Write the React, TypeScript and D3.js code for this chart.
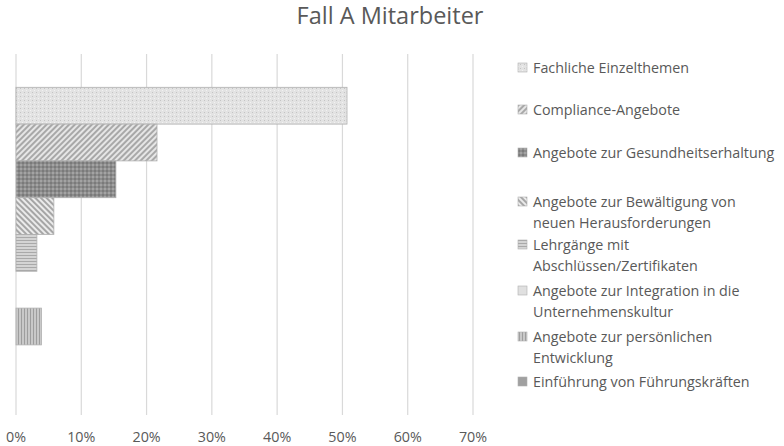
import React from 'react';
import * as d3 from 'd3';

// Series (one bar each), top to bottom as in the legend.
const categories = [
  'Fachliche Einzelthemen',
  'Compliance-Angebote',
  'Angebote zur Gesundheitserhaltung',
  'Angebote zur Bewältigung von neuen Herausforderungen',
  'Lehrgänge mit Abschlüssen/Zertifikaten',
  'Angebote zur Integration in die Unternehmenskultur',
  'Angebote zur persönlichen Entwicklung',
  'Einführung von Führungskräften',
];
const values = [0.507, 0.216, 0.153, 0.058, 0.032, 0, 0.039, 0];
const legendLines = [
  ['Fachliche Einzelthemen'],
  ['Compliance-Angebote'],
  ['Angebote zur Gesundheitserhaltung'],
  ['Angebote zur Bewältigung von', 'neuen Herausforderungen'],
  ['Lehrgänge mit', 'Abschlüssen/Zertifikaten'],
  ['Angebote zur Integration in die', 'Unternehmenskultur'],
  ['Angebote zur persönlichen', 'Entwicklung'],
  ['Einführung von Führungskräften'],
];
const xTicks = [0, 0.1, 0.2, 0.3, 0.4, 0.5, 0.6, 0.7];
const title = 'Fall A Mitarbeiter';

const FONT = '"Open Sans", sans-serif';
const TEXT = '#595959';
const GRID = '#d9d9d9';

// legend first-line baselines (layout)
const legendTop = [73, 115, 158, 207, 250, 296, 342, 387];

const Patterns = () => (
  <defs>
    {/* fine dotted grid, light */}
    <pattern id="p0" width="4" height="4" patternUnits="userSpaceOnUse">
      <rect width="4" height="4" fill="#e3e3e3" />
      <rect x="0" y="0" width="1" height="1" fill="#c4c4c4" />
      <rect x="2" y="2" width="1" height="1" fill="#f2f2f2" />
    </pattern>
    {/* wide upward diagonal */}
    <pattern id="p1" width="4" height="4" patternUnits="userSpaceOnUse" patternTransform="rotate(45)">
      <rect width="4" height="4" fill="#e6e6e6" />
      <rect width="2" height="4" fill="#a8a8a8" />
    </pattern>
    {/* dark checker */}
    <pattern id="p2" width="4" height="4" patternUnits="userSpaceOnUse">
      <rect width="4" height="4" fill="#8c8c8c" />
      <rect x="0" y="0" width="2" height="2" fill="#a3a3a3" />
      <rect x="2" y="2" width="2" height="2" fill="#7a7a7a" />
    </pattern>
    {/* downward diagonal */}
    <pattern id="p3" width="4" height="4" patternUnits="userSpaceOnUse" patternTransform="rotate(-45)">
      <rect width="4" height="4" fill="#ebebeb" />
      <rect width="2" height="4" fill="#a6a6a6" />
    </pattern>
    {/* horizontal stripes */}
    <pattern id="p4" width="4" height="3" patternUnits="userSpaceOnUse">
      <rect width="4" height="3" fill="#d4d4d4" />
      <rect width="4" height="1" fill="#a9a9a9" />
    </pattern>
    <pattern id="p5" width="4" height="4" patternUnits="userSpaceOnUse">
      <rect width="4" height="4" fill="#e0e0e0" />
    </pattern>
    {/* vertical stripes */}
    <pattern id="p6" width="3" height="4" patternUnits="userSpaceOnUse">
      <rect width="3" height="4" fill="#c9c9c9" />
      <rect width="1" height="4" fill="#9e9e9e" />
    </pattern>
    <pattern id="p7" width="4" height="4" patternUnits="userSpaceOnUse">
      <rect width="4" height="4" fill="#a0a0a0" />
    </pattern>
  </defs>
);

export default function App() {
  const width = 784;
  const height = 446;
  const plot = { left: 16, right: 473, top: 54, bottom: 415 };

  const x = d3.scaleLinear().domain([0, 0.7]).range([plot.left, plot.right]);
  const y = d3
    .scaleBand<string>()
    .domain(categories)
    .range([plot.top, plot.bottom])
    .paddingInner(0)
    .paddingOuter(0.905);
  const fmt = d3.format('.0%');

  return (
    <svg
      width={width}
      height={height}
      style={{ position: 'absolute', left: 0, top: 0, background: '#fff' }}
    >
      <Patterns />
      <rect width={width} height={height} fill="#fff" />

      <text x={390} y={24} textAnchor="middle" fontFamily={FONT} fontSize={23.5} fill={TEXT}>
        {title}
      </text>

      {/* gridlines */}
      {xTicks.map((t) => (
        <line
          key={t}
          x1={x(t)}
          x2={x(t)}
          y1={plot.top}
          y2={plot.bottom}
          stroke={GRID}
          strokeWidth={1.2}
        />
      ))}

      {/* bars */}
      {categories.map((c, i) =>
        values[i] > 0 ? (
          <rect
            key={c}
            x={x(0)}
            y={y(c)}
            width={x(values[i]) - x(0)}
            height={y.bandwidth()}
            fill={`url(#p${i})`}
            stroke="#b0b0b0"
            strokeWidth={0.8}
          />
        ) : null
      )}

      {/* tick labels */}
      {xTicks.map((t) => (
        <text
          key={t}
          x={x(t)}
          y={442}
          textAnchor="middle"
          fontFamily={FONT}
          fontSize={14.3}
          fill={TEXT}
        >
          {fmt(t)}
        </text>
      ))}

      {/* legend */}
      {legendLines.map((lines, i) => (
        <g key={i}>
          <rect
            x={518}
            y={legendTop[i] - 10}
            width={9}
            height={9}
            fill={`url(#p${i})`}
            stroke="#b0b0b0"
            strokeWidth={0.6}
          />
          {lines.map((l, j) => (
            <text
              key={j}
              x={533}
              y={legendTop[i] + j * 21}
              fontFamily={FONT}
              fontSize={14.3}
              fill={TEXT}
            >
              {l}
            </text>
          ))}
        </g>
      ))}
    </svg>
  );
}
